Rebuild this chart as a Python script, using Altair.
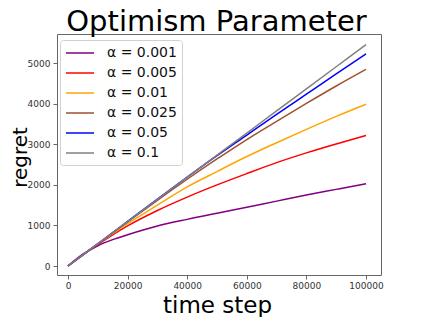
import altair as alt
import pandas as pd

steps = [0, 5000, 10000, 15000, 20000, 30000, 40000, 50000, 60000, 70000, 80000, 90000, 100000]
labels = ["α = 0.001", "α = 0.005", "α = 0.01", "α = 0.025", "α = 0.05", "α = 0.1"]
colors = ["#800080", "#ff0000", "#ffa500", "#a0522d", "#0000ff", "#808080"]
title_text = ["Optimism Parameter"]

r_0001 = [0, 290, 500, 650, 770, 985, 1150, 1300, 1450, 1600, 1750, 1890, 2030]
r_0005 = [0, 275, 530, 770, 990, 1370, 1700, 2000, 2280, 2550, 2790, 3010, 3220]
r_001 = [0, 275, 545, 800, 1045, 1500, 1950, 2330, 2700, 3040, 3370, 3690, 3990]
r_0025 = [0, 275, 548, 820, 1090, 1620, 2140, 2640, 3120, 3570, 4010, 4440, 4850]
r_005 = [0, 275, 548, 825, 1100, 1650, 2190, 2720, 3230, 3740, 4240, 4740, 5230]
r_01 = [0, 275, 548, 822, 1095, 1645, 2190, 2735, 3280, 3825, 4370, 4915, 5460]

series = [r_0001, r_0005, r_001, r_0025, r_005, r_01]
rows = []
for lab, vals in zip(labels, series):
    for t, v in zip(steps, vals):
        rows.append({"t": t, "regret": v, "alpha": lab})
df = pd.DataFrame(rows)

FONT = "DejaVu Sans"
FRAME = "#666666"
W, H = 324, 241

lines = alt.Chart(df).mark_line(strokeWidth=1.5, interpolate="monotone").encode(
    x=alt.X("t:Q", title="time step",
            scale=alt.Scale(domain=[-3691, 105034], nice=False, zero=False),
            axis=alt.Axis(values=[0, 20000, 40000, 60000, 80000, 100000], format="d",
                          titleX=160, titleY=37, titleBaseline="alphabetic")),
    y=alt.Y("regret:Q", title="regret",
            scale=alt.Scale(domain=[-222, 5723], nice=False, zero=False),
            axis=alt.Axis(values=[0, 1000, 2000, 3000, 4000, 5000], format="d",
                          titleX=-31, titleY=123, titleBaseline="alphabetic",
                          titleFontSize=20)),
    color=alt.Color("alpha:N", sort=labels,
                    scale=alt.Scale(domain=labels, range=colors),
                    legend=alt.Legend(title=None, orient="none", legendX=3, legendY=6,
                                      padding=5, rowPadding=5,
                                      symbolType="M-1,0L3,0", symbolSize=196,
                                      symbolStrokeWidth=1.5, labelOffset=26,
                                      labelFontSize=14, labelFont=FONT,
                                      labelColor="#111111",
                                      strokeColor="#d0d0d0", fillColor="rgba(255,255,255,0.8)",
                                      cornerRadius=3)),
    order=alt.Order("t:Q"),
)

title = alt.Chart(pd.DataFrame({"title": title_text})).mark_text(
    font=FONT, fontSize=29, color="#000000", align="center", baseline="alphabetic"
).encode(
    text="title:N",
    x=alt.value(159.5),
    y=alt.value(-3.5),
)

chart = alt.layer(lines, title).properties(
    width=W,
    height=H,
    autosize=alt.AutoSizeParams(type="none"),
    padding={"left": 49, "top": 26, "right": 34, "bottom": 42},
).configure_view(
    stroke=FRAME, strokeWidth=1
).configure_axis(
    grid=False, domain=False, tickColor=FRAME, tickSize=4, tickWidth=1,
    labelFont=FONT, labelFontSize=9, labelColor="#333333", labelPadding=3,
    titleFont=FONT, titleFontSize=23, titleFontWeight="normal", titleColor="#000000",
).configure_axisX(labelPadding=2.5)

chart.save("out.html", embed_options={"renderer": "svg", "actions": False})
